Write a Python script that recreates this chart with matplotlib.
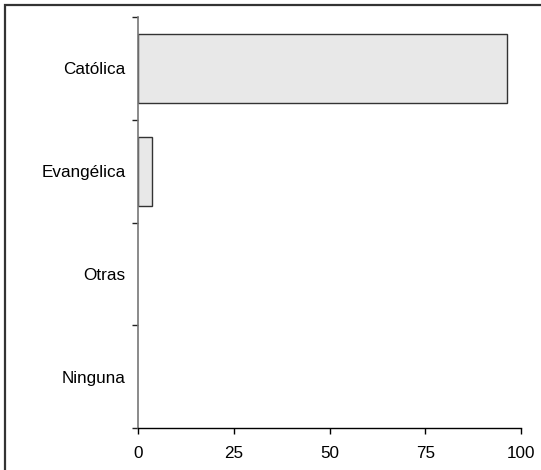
import numpy as np
import matplotlib
matplotlib.use("Agg")
import matplotlib.pyplot as plt
from matplotlib.patches import Rectangle

categories = ["Católica", "Evangélica", "Otras", "Ninguna"]
values = [96.4, 3.7, 0.0, 0.0]
xticks = [0, 25, 50, 75, 100]

plt.rcParams["font.family"] = ["Liberation Sans", "DejaVu Sans"]

fig = plt.figure(figsize=(5.41, 4.70), dpi=100)
ax = fig.add_axes([138 / 541, 1 - 428 / 470, (521 - 138) / 541, (428 - 17) / 470])

# outer frame, cropped on the right and bottom like the original
fig.add_artist(Rectangle((5 / 541, -0.05), 1.1, 1 - 5 / 470 + 0.05,
                         transform=fig.transFigure, fill=False,
                         edgecolor="#333333", lw=1.6))

y = np.arange(len(categories))
# empty categories get no outline (nothing to draw at zero)
lws = [1.0 if v > 0 else 0 for v in values]
ax.barh(y, values, height=0.67, color="#e8e8e8", edgecolor="#333333", lw=lws)

ax.set_xlim(0, 100)
ax.set_ylim(len(categories) - 0.5, -0.5)
ax.set_xticks(xticks)
ax.set_yticks(y)
ax.set_yticklabels(categories)
ax.set_yticks(np.arange(-0.5, len(categories)), minor=True)

ax.tick_params(axis="y", which="major", length=0, pad=9, labelsize=12.3)
ax.tick_params(axis="y", which="minor", length=4, width=1.0, color="#222222")
ax.tick_params(axis="x", length=4, width=1.0, pad=9, labelsize=12.3)

for s in ("top", "right"):
    ax.spines[s].set_visible(False)
ax.spines["left"].set_color("#777777")
ax.spines["left"].set_linewidth(1.2)
ax.spines["bottom"].set_linewidth(1.0)

fig.savefig("out.png", dpi=100)
